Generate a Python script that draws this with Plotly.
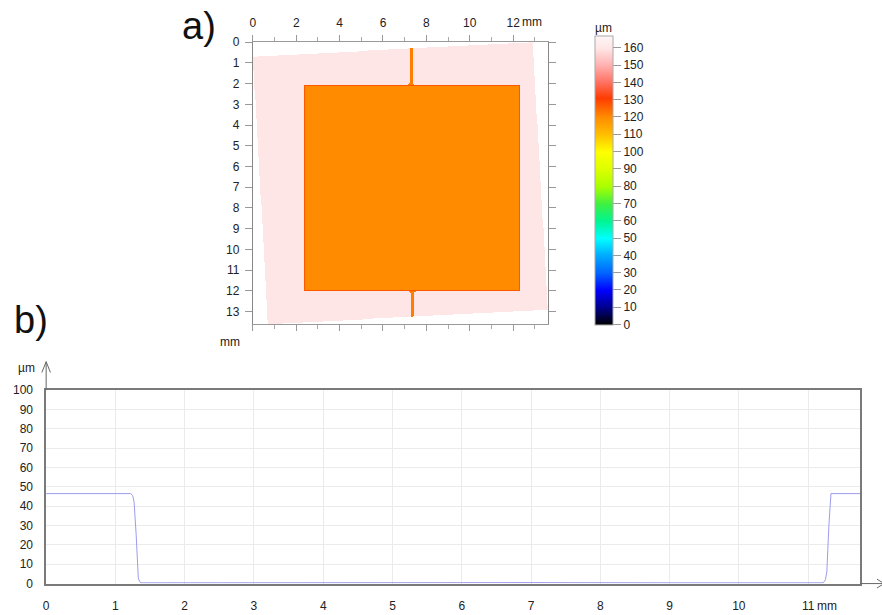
import numpy as np
import plotly.graph_objects as go

# ---------------- b) line profile across the pad ----------------
profile_x_mm = [0.0, 1.22, 1.25, 1.27, 1.30, 1.33, 1.35, 1.37, 1.5, 3.0, 5.0, 7.0,
                9.0, 11.0, 11.22, 11.25, 11.27, 11.30, 11.33, 11.75]
profile_z_um = [46.5, 46.5, 45.5, 42.0, 25.0, 3.0, 1.0, 0.4, 0.4, 0.5, 0.4, 0.5,
                0.4, 0.4, 0.4, 2.0, 6.0, 30.0, 46.5, 46.5]
profile_xticks = list(range(0, 12))
profile_yticks = list(range(0, 101, 10))

# ---------------- a) height map ----------------
substrate_um = 160.0
pad_um = 120.0
pad_edge_um = 127.0
sample_corners_mm = [(0.0, 0.7), (12.9, 0.0), (13.6, 12.9), (0.7, 13.6)]
pad_x_mm = (2.35, 12.3)
pad_y_mm = (2.05, 12.0)
top_lead_x_mm = (7.22, 7.38)
top_lead_y_mm = (0.3, 2.05)
bottom_lead_x_mm = (7.27, 7.43)
bottom_lead_y_mm = (12.0, 13.3)
fillet_mm = 0.12
edge_mm = 0.05
map_extent_mm = 13.6
map_step_mm = 0.025
map_xticks = list(range(0, 13, 2))
map_yticks = list(range(0, 14))
colorbar_ticks = list(range(0, 161, 10))
z_max = 167.0

# rainbow-to-pink height palette (value in µm, colour)
palette = [
    (0, "#000000"), (10, "#00008c"), (20, "#0000ff"), (30, "#0064ff"),
    (40, "#00aaff"), (50, "#00ffff"), (60, "#00f590"), (70, "#40f040"),
    (80, "#aaff00"), (90, "#ddff00"), (100, "#ffff00"), (110, "#ffbe00"),
    (120, "#ff8c00"), (131, "#ff3c00"), (140, "#ff7060"), (150, "#ffb0b0"),
    (160, "#ffe6e6"), (167, "#fff6f6"),
]
colorscale = [[v / z_max, c] for v, c in palette]

# build the height grid
n = int(round(map_extent_mm / map_step_mm))
centers = (np.arange(n) + 0.5) * map_step_mm
X, Y = np.meshgrid(centers, centers)

inside = np.ones_like(X, dtype=bool)
corners = sample_corners_mm + [sample_corners_mm[0]]
for (ax_, ay_), (bx_, by_) in zip(corners[:-1], corners[1:]):
    cross = (bx_ - ax_) * (Y - ay_) - (by_ - ay_) * (X - ax_)
    inside &= cross >= 0

Z = np.full_like(X, np.nan, dtype=np.float32)
Z[inside] = substrate_um

in_pad = (X >= pad_x_mm[0]) & (X <= pad_x_mm[1]) & (Y >= pad_y_mm[0]) & (Y <= pad_y_mm[1])
near_edge = in_pad & (
    (X - pad_x_mm[0] < edge_mm) | (pad_x_mm[1] - X < edge_mm)
    | (Y - pad_y_mm[0] < edge_mm) | (pad_y_mm[1] - Y < edge_mm)
)


def lead(xr, yr, join_y, direction):
    """Narrow lead with rounded fillets where it meets the pad."""
    body = (X >= xr[0]) & (X <= xr[1]) & (Y >= yr[0]) & (Y <= yr[1])
    cy = join_y - direction * fillet_mm
    band = (Y - join_y) * direction <= 0
    band &= (Y - cy) * direction >= 0
    left = band & (X >= xr[0] - fillet_mm) & (X < xr[0]) & \
        ((X - (xr[0] - fillet_mm)) ** 2 + (Y - cy) ** 2 >= fillet_mm ** 2)
    right = band & (X > xr[1]) & (X <= xr[1] + fillet_mm) & \
        ((X - (xr[1] + fillet_mm)) ** 2 + (Y - cy) ** 2 >= fillet_mm ** 2)
    return body | left | right


top_lead = lead(top_lead_x_mm, top_lead_y_mm, pad_y_mm[0], 1)
bottom_lead = lead(bottom_lead_x_mm, bottom_lead_y_mm, pad_y_mm[1], -1)

Z[in_pad] = pad_um
Z[near_edge] = pad_edge_um
Z[(top_lead | bottom_lead) & inside] = pad_um + 2

W, H = 882, 615


def px(x):
    return x / W


def py(y):
    return 1 - y / H


font = dict(family="Liberation Sans, Arial, sans-serif", size=12, color="#222222")
clear = "rgba(0,0,0,0)"

fig = go.Figure()

fig.add_trace(go.Heatmap(
    z=Z, x0=map_step_mm / 2, dx=map_step_mm, y0=map_step_mm / 2, dy=map_step_mm,
    zmin=0, zmax=z_max, colorscale=colorscale, zsmooth=False, hoverinfo="skip",
    xaxis="x", yaxis="y",
    colorbar=dict(
        x=px(594), xanchor="left", xpad=0, ypad=0,
        y=py(325), yanchor="bottom", lenmode="pixels", len=289,
        thicknessmode="pixels", thickness=18,
        tickvals=colorbar_ticks, ticks="outside", ticklen=8, tickcolor="#999999",
        tickfont=font, outlinecolor="#aaaaaa", outlinewidth=1,
    ),
))

fig.add_trace(go.Scatter(
    x=profile_x_mm, y=profile_z_um, mode="lines", xaxis="x2", yaxis="y2",
    line=dict(color="#9c9cec", width=1), hoverinfo="skip", showlegend=False,
))

map_xtext = [str(v) for v in map_xticks]

fig.update_layout(
    width=W, height=H, margin=dict(l=0, r=0, t=0, b=0),
    paper_bgcolor="white", plot_bgcolor="white", font=font, showlegend=False,
    xaxis=dict(
        domain=[px(250.7), px(546.7)], range=[0, map_extent_mm], side="top",
        anchor="y", tickvals=map_xticks, ticktext=map_xtext, ticks="outside",
        ticklen=6, tickcolor="#999999", ticklabelstandoff=3,
        showline=True, linecolor="#999999",
        mirror="ticks", showgrid=False, zeroline=False, tickfont=font,
        minor=dict(dtick=1, ticks="outside", ticklen=4, tickcolor="#aaaaaa"),
    ),
    yaxis=dict(
        domain=[py(324.3), py(36)], range=[map_extent_mm, 0], anchor="x",
        tickvals=map_yticks, ticks="outside", ticklen=7, tickcolor="#999999",
        ticklabelstandoff=3,
        showline=True, linecolor="#888888", mirror="ticks", showgrid=False,
        zeroline=False, tickfont=font,
    ),
    xaxis2=dict(
        domain=[px(43.3), px(860)], range=[0, 11.75], anchor="y2",
        tickvals=profile_xticks, ticks="outside", ticklen=10, tickcolor=clear,
        showline=True, linecolor="#7a7a7a",
        linewidth=1.5, mirror=True, showgrid=True, gridcolor="#ebebeb",
        zeroline=False, tickfont=font,
    ),
    yaxis2=dict(
        domain=[py(590), py(392)], range=[0, 100], anchor="x2",
        tickvals=profile_yticks, ticks="outside", ticklen=9, tickcolor=clear,
        showline=True, linecolor="#7a7a7a",
        linewidth=1.5, mirror=True, showgrid=True, gridcolor="#ebebeb",
        zeroline=False, tickfont=font,
    ),
)

annotations = [
    dict(text="a)", x=px(197), y=py(19), font=dict(family=font["family"], size=38, color="#111111")),
    dict(text="b)", x=px(28), y=py(320), font=dict(family=font["family"], size=38, color="#111111")),
    dict(text="mm", x=px(531), y=py(15), font=font),
    dict(text="mm", x=px(228), y=py(343), font=font),
    dict(text="µm", x=px(603), y=py(22), font=font),
    dict(text="µm", x=px(24), y=py(369), font=font),
    dict(text="mm", x=px(827), y=py(613), font=font),
]
for a in annotations:
    fig.add_annotation(xref="paper", yref="paper", showarrow=False,
                       xanchor="center", yanchor="middle", **a)

# axis arrows of the profile plot
arrow_line = dict(color="#666666", width=1)
fig.add_shape(type="line", xref="paper", yref="paper",
              x0=px(43.3), y0=py(392), x1=px(43.3), y1=py(363), line=arrow_line)
fig.add_shape(type="path", xref="paper", yref="paper", line=arrow_line,
              path=f"M {px(39)},{py(374)} L {px(43.3)},{py(363)} L {px(47.6)},{py(374)}")
fig.add_shape(type="line", xref="paper", yref="paper",
              x0=px(860), y0=py(590), x1=px(883), y1=py(590), line=arrow_line)
fig.add_shape(type="path", xref="paper", yref="paper", line=arrow_line,
              path=f"M {px(877)},{py(585.5)} L {px(884)},{py(590)} L {px(877)},{py(594.5)}")

fig.write_html("out.html")
